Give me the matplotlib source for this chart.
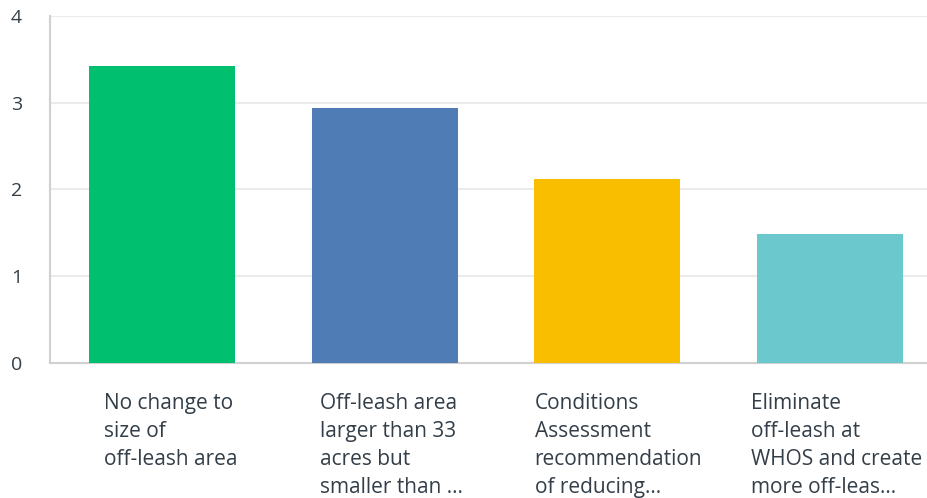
import matplotlib
matplotlib.use("Agg")
import matplotlib.pyplot as plt

categories = [
    "No change to\nsize of\noff-leash area",
    "Off-leash area\nlarger than 33\nacres but\nsmaller than ...",
    "Conditions\nAssessment\nrecommendation\nof reducing...",
    "Eliminate\noff-leash at\nWHOS and create\nmore off-leas...",
]
values = [3.42, 2.94, 2.12, 1.48]
colors = ["#00BF6F", "#507CB6", "#F9BE00", "#6BC8CD"]
yticks = [0, 1, 2, 3, 4]

plt.rcParams['font.family'] = ['Open Sans', 'DejaVu Sans']
W, H = 927, 498
fig = plt.figure(figsize=(W / 100, H / 100), dpi=100)
ax = fig.add_axes([50 / W, (H - 362.5) / H, (927 - 50) / W, (362.5 - 16) / H])

x = list(range(len(values)))
ax.bar(x, values, width=0.656, color=colors, zorder=3)
ax.set_xlim(-0.503, 3.435)
ax.set_ylim(0, 4)
ax.set_yticks(yticks)
ax.set_yticklabels([str(t) for t in yticks], fontsize=14, color="#333e48")
ax.tick_params(axis='y', length=0, pad=28)
for lbl in ax.get_yticklabels():
    lbl.set_horizontalalignment('left')
ax.set_xticks([])
ax.grid(axis='y', color="#ebebeb", linewidth=1.5, zorder=0)
for s in ['top', 'right']:
    ax.spines[s].set_visible(False)
ax.spines['left'].set_color("#d0d0d0")
ax.spines['bottom'].set_color("#d0d0d0")
ax.spines['left'].set_linewidth(1.5)
ax.spines['bottom'].set_linewidth(1.5)

offsets = [0.04, 0.03, 0.05, 0.03]
for xi, lab, off in zip(x, categories, offsets):
    ax.text(xi + off, -0.35, lab, transform=ax.transData, ha='center', va='top',
            multialignment='left', fontsize=15, color="#333e48", linespacing=1.45,
            clip_on=False)

fig.savefig("out.png", dpi=100)
